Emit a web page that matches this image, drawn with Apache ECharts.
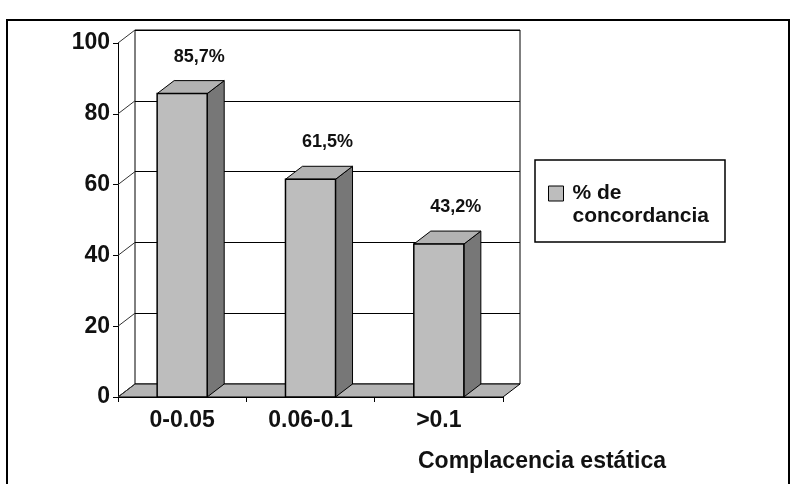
<!DOCTYPE html>
<html>
<head>
<meta charset="utf-8">
<script src="https://cdn.jsdelivr.net/npm/echarts@6/dist/echarts.min.js"></script>
<style>
  html, body { margin: 0; padding: 0; background: #fff; }
  #chart { width: 792px; height: 484px; }
</style>
</head>
<body>
<div id="chart"></div>
<script>
// datos
const categorias = ['0-0.05', '0.06-0.1', '>0.1'];
const concordancia = [85.7, 61.5, 43.2];
const yTicks = [0, 20, 40, 60, 80, 100];
const serieNombre = '% de\nconcordancia';

const FONT = '"Liberation Sans", Arial, sans-serif';
const D = [17, -13];   // desplazamiento de la profundidad 3D

const chart = echarts.init(document.getElementById('chart'));

const option = {
  animation: false,
  backgroundColor: '#fff',
  title: {
    text: 'Complacencia estática',
    left: 418, top: 450, padding: 0,
    textStyle: { fontFamily: FONT, fontSize: 23, fontWeight: 'bold', color: '#111' }
  },
  legend: {
    data: [serieNombre],
    left: 548, top: 159, padding: 0,
    itemWidth: 15, itemHeight: 15,
    icon: 'rect',
    // linea vacia arriba para alinear el icono con la primera linea
    formatter: name => '\n' + name.split('\n').map(s => '{t|' + s + '}').join('\n'),
    itemStyle: { color: '#bdbdbd', borderColor: '#000', borderWidth: 1 },
    textStyle: {
      fontFamily: FONT, fontSize: 21, fontWeight: 'bold', color: '#111', lineHeight: 23,
      rich: { t: { fontFamily: FONT, fontSize: 21, fontWeight: 'bold', color: '#111', lineHeight: 23, padding: [0, 0, 0, 4] } }
    }
  },
  graphic: [
    { type: 'rect', shape: { x: 7, y: 20, width: 782, height: 500 }, style: { fill: null, stroke: '#000', lineWidth: 2 }, z: 10 },
    { type: 'rect', shape: { x: 535, y: 160, width: 190, height: 82 }, style: { fill: '#fff', stroke: '#000', lineWidth: 1.5 }, z: 0 }
  ],
  grid: [
    { left: 118, top: 43, width: 385, height: 354 },
    { left: 135, top: 30, width: 385, height: 354, show: true, backgroundColor: '#fff', borderColor: '#000', borderWidth: 1 }
  ],
  xAxis: [
    {
      gridIndex: 0, type: 'category', data: categorias,
      axisLine: { lineStyle: { color: '#000', width: 1 } },
      axisTick: { show: true, length: 5, lineStyle: { color: '#000' } },
      axisLabel: { margin: 12, fontFamily: FONT, fontSize: 23, fontWeight: 'bold', color: '#111' }
    },
    { gridIndex: 1, type: 'category', data: categorias, show: false }
  ],
  yAxis: [
    {
      gridIndex: 0, type: 'value', min: 0, max: 100, interval: 20,
      axisLine: { show: true, lineStyle: { color: '#000', width: 1 } },
      axisTick: { show: true, length: 5, lineStyle: { color: '#000' } },
      axisLabel: { margin: 8, fontFamily: FONT, fontSize: 23, fontWeight: 'bold', color: '#111' },
      splitLine: { show: false }
    },
    {
      gridIndex: 1, type: 'value', min: 0, max: 100, interval: 20,
      axisLine: { show: false }, axisTick: { show: false }, axisLabel: { show: false },
      splitLine: { show: true, lineStyle: { color: '#000', width: 1 } }
    }
  ],
  series: [
    {
      // suelo y lineas de la pared lateral
      type: 'custom', xAxisIndex: 0, yAxisIndex: 0, silent: true, z: 1,
      data: yTicks.map(v => [v]),
      renderItem(params, api) {
        const cs = params.coordSys;
        const p = api.coord([0, api.value(0)]);
        const x = cs.x;
        const children = [{
          type: 'line',
          shape: { x1: x, y1: p[1], x2: x + D[0], y2: p[1] + D[1] },
          style: { stroke: '#333', lineWidth: 1 }
        }];
        if (params.dataIndex === 0) {
          const yb = cs.y + cs.height;
          children.unshift({
            type: 'polygon',
            shape: { points: [[x, yb], [x + cs.width, yb], [x + cs.width + D[0], yb + D[1]], [x + D[0], yb + D[1]]] },
            style: { fill: '#b4b4b4', stroke: '#000', lineWidth: 1 }
          });
        }
        return { type: 'group', children };
      }
    },
    {
      name: serieNombre,
      type: 'custom', xAxisIndex: 0, yAxisIndex: 0, z: 3,
      itemStyle: { color: '#bdbdbd', borderColor: '#000', borderWidth: 1 },
      data: concordancia.map((v, i) => [i, v]),
      renderItem(params, api) {
        const top = api.coord([api.value(0), api.value(1)]);
        const base = api.coord([api.value(0), 0]);
        const bw = api.size([1, 0])[0] * 0.39;
        const x0 = top[0] - bw / 2, x1 = top[0] + bw / 2;
        const label = api.value(1).toFixed(1).replace('.', ',') + '%';
        return {
          type: 'group',
          children: [
            {
              type: 'polygon',
              shape: { points: [[x1, top[1]], [x1 + D[0], top[1] + D[1]], [x1 + D[0], base[1] + D[1]], [x1, base[1]]] },
              style: { fill: '#777', stroke: '#000', lineWidth: 1 }
            },
            {
              type: 'polygon',
              shape: { points: [[x0, top[1]], [x0 + D[0], top[1] + D[1]], [x1 + D[0], top[1] + D[1]], [x1, top[1]]] },
              style: { fill: '#b2b2b2', stroke: '#000', lineWidth: 1 }
            },
            {
              type: 'rect',
              shape: { x: x0, y: top[1], width: bw, height: base[1] - top[1] },
              style: { fill: '#bdbdbd', stroke: '#000', lineWidth: 1.5 }
            },
            {
              type: 'text',
              x: top[0] + D[0], y: top[1] + D[1] - 24,
              style: {
                text: label, align: 'center', verticalAlign: 'middle',
                font: 'bold 18px ' + FONT, fill: '#111'
              }
            }
          ]
        };
      }
    }
  ]
};

chart.setOption(option);
</script>
</body>
</html>
